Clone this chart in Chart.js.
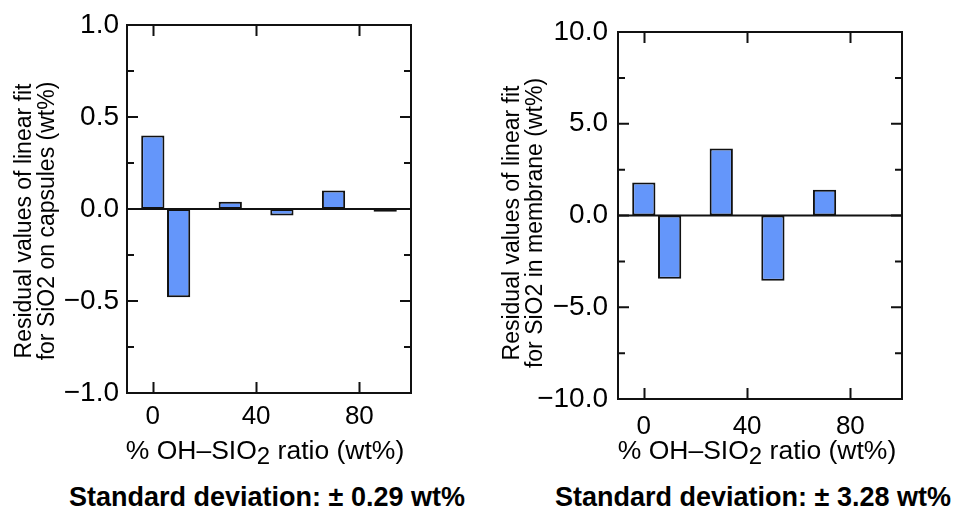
<!DOCTYPE html>
<html>
<head>
<meta charset="utf-8">
<script src="https://cdn.jsdelivr.net/npm/chart.js@4.4.1/dist/chart.umd.min.js"></script>
<style>
  body { margin: 0; background: #fff; }
  #wrap { position: relative; width: 961px; height: 518px; overflow: hidden; font-family: "Liberation Sans", Arial, sans-serif; color: #000; }
  canvas { position: absolute; top: 0; }
  .ytitle { position: absolute; width: 300px; height: 46px; font-size: 23px; line-height: 23px; text-align: center; white-space: nowrap; transform: rotate(-90deg); transform-origin: 50% 50%; }
  .xtitle { position: absolute; width: 400px; font-size: 26.5px; line-height: 30px; text-align: center; white-space: nowrap; }
  .xtitle sub { font-size: 24px; vertical-align: -5px; line-height: 0; }
  .stdev { position: absolute; width: 480px; font-size: 27px; font-weight: bold; line-height: 32px; text-align: center; white-space: nowrap; }
</style>
</head>
<body>
<div id="wrap">
  <canvas id="capsChart" width="480" height="440" style="left:0"></canvas>
  <canvas id="membChart" width="481" height="440" style="left:480px"></canvas>

  <div class="ytitle" style="left:-115px; top:198px">Residual values of linear fit<br>for SiO2 on capsules (wt%)</div>
  <div class="ytitle" style="left:373px; top:200px">Residual values of linear fit<br>for SiO2 in membrane (wt%)</div>

  <div class="xtitle" style="left:65px; top:435px">% OH–SIO<sub>2</sub> ratio (wt%)</div>
  <div class="xtitle" style="left:557px; top:435px">% OH–SIO<sub>2</sub> ratio (wt%)</div>

  <div class="stdev" style="left:27px; top:481px">Standard deviation: ± 0.29 wt%</div>
  <div class="stdev" style="left:513px; top:481px">Standard deviation: ± 3.28 wt%</div>
</div>

<script>
// residuals of the linear fit
const CAPS_X = [0, 10, 30, 50, 70, 90];
const CAPS_RESID = [0.40, -0.48, 0.04, -0.035, 0.10, -0.015];

const MEMB_X = [0, 10, 30, 50, 70];
const MEMB_RESID = [1.8, -3.45, 3.65, -3.55, 1.4];

const X_TICKS = [0, 40, 80];
const CAPS_Y_MAJOR = [-1, -0.5, 0, 0.5, 1];
const CAPS_Y_MINOR = [-0.75, -0.25, 0.25, 0.75];
const MEMB_Y_MAJOR = [-10, -5, 0, 5, 10];
const MEMB_Y_MINOR = [-7.5, -2.5, 2.5, 7.5];

const BAR_FILL = "rgb(100, 150, 250)";
const INK = "#111";

Chart.defaults.font.family = '"Liberation Sans", Arial, sans-serif';
Chart.defaults.color = "#000";

function fmtY(v) {
  const s = Math.abs(v).toFixed(1);
  return v < 0 ? "\u2212" + s : s;
}

// frame, inward tick marks and the zero line
const framePlugin = {
  id: "frame",
  afterDatasetsDraw(chart, args, opts) {
    const { ctx, chartArea: a, scales } = chart;
    const x = scales.x, y = scales.y;
    ctx.save();
    ctx.strokeStyle = INK;
    ctx.lineWidth = 2;
    ctx.lineCap = "butt";

    const y0 = y.getPixelForValue(0);
    ctx.beginPath();
    ctx.moveTo(a.left, y0);
    ctx.lineTo(a.right, y0);
    ctx.stroke();

    ctx.strokeRect(a.left, a.top, a.right - a.left, a.bottom - a.top);

    ctx.beginPath();
    X_TICKS.forEach((v) => {
      const px = Math.round(x.getPixelForValue(v)) + 0.5;
      ctx.moveTo(px, a.top); ctx.lineTo(px, a.top + 11);
      ctx.moveTo(px, a.bottom); ctx.lineTo(px, a.bottom - 11);
    });
    opts.major.forEach((v) => {
      const py = y.getPixelForValue(v);
      ctx.moveTo(a.left, py); ctx.lineTo(a.left + 11, py);
      ctx.moveTo(a.right, py); ctx.lineTo(a.right - 11, py);
    });
    opts.minor.forEach((v) => {
      const py = y.getPixelForValue(v);
      ctx.moveTo(a.left, py); ctx.lineTo(a.left + 7, py);
      ctx.moveTo(a.right, py); ctx.lineTo(a.right - 7, py);
    });
    ctx.stroke();
    ctx.restore();
  },
};

function makeChart(id, xs, vals, yMax, yMajor, yMinor, box) {
  return new Chart(document.getElementById(id), {
    type: "bar",
    data: {
      datasets: [{
        data: xs.map((x, i) => ({ x, y: vals[i] })),
        backgroundColor: BAR_FILL,
        borderColor: INK,
        borderWidth: 2,
        borderSkipped: false,
        categoryPercentage: 1,
        barPercentage: 0.9,
      }],
    },
    options: {
      responsive: false,
      animation: false,
      layout: { padding: { left: 0, top: box.top, right: box.right, bottom: 0 } },
      plugins: {
        legend: { display: false },
        tooltip: { enabled: false },
        frame: { major: yMajor, minor: yMinor },
      },
      scales: {
        x: {
          type: "linear",
          min: -10,
          max: 100,
          offset: false,
          grid: { display: false, drawTicks: false, offset: false },
          border: { display: false },
          afterBuildTicks: (s) => { s.ticks = X_TICKS.map((v) => ({ value: v })); },
          afterFit: (s) => { s.height = box.xh; },
          ticks: { font: { size: 26 }, padding: box.xpad, autoSkip: false, maxRotation: 0 },
        },
        y: {
          min: -yMax,
          max: yMax,
          grid: { display: false, drawTicks: false },
          border: { display: false },
          afterBuildTicks: (s) => { s.ticks = yMajor.map((v) => ({ value: v })); },
          afterFit: (s) => { s.width = box.left; },
          ticks: { font: { size: 28 }, padding: box.ypad, autoSkip: false, callback: (v) => fmtY(v) },
        },
      },
    },
    plugins: [framePlugin],
  });
}

makeChart("capsChart", CAPS_X, CAPS_RESID, 1, CAPS_Y_MAJOR, CAPS_Y_MINOR,
  { left: 127, top: 25, right: 69, xh: 47, xpad: 8, ypad: 8 });
makeChart("membChart", MEMB_X, MEMB_RESID, 10, MEMB_Y_MAJOR, MEMB_Y_MINOR,
  { left: 138, top: 32, right: 59, xh: 41, xpad: 12, ypad: 10 });
</script>
</body>
</html>
